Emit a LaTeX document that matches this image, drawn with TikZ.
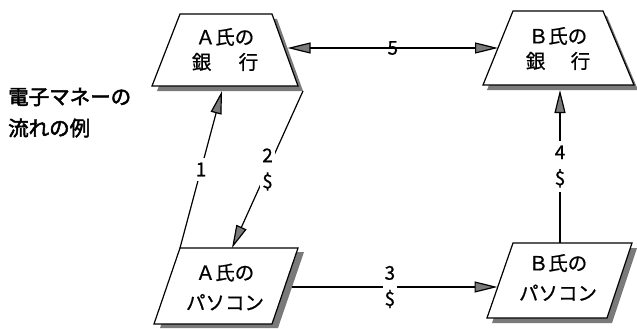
\documentclass[tikz,border=0pt]{standalone}
\usepackage{fontspec}
\newfontfamily\jp[FakeBold=0.7]{Noto Sans CJK JP}
\newfontfamily\jpbold[FakeBold=2.4]{Noto Sans CJK JP}
\usetikzlibrary{arrows.meta,calc}

\tikzset{
  boxline/.style={draw=black, line width=1.2pt, fill=white, line join=miter},
  boxshadow/.style={fill=black!52, draw=none},
  boxtext/.style={align=center, inner sep=0pt, font=\jp\fontsize{19.5}{25}\selectfont},
  pctext/.style={boxtext, font=\jp\fontsize{19.5}{30}\selectfont},
  flow/.style={draw=black, line width=1.2pt,
    -{Triangle[length=23pt, width=11pt, fill=black!52]}},
  flowboth/.style={flow,
    {Triangle[length=23pt, width=11pt, fill=black!52]}-{Triangle[length=23pt, width=11pt, fill=black!52]}},
  flowlabel/.style={fill=white, align=center, inner xsep=2pt, inner ysep=5pt,
    font=\jp\fontsize{19}{26}\selectfont},
  titletext/.style={anchor=west, inner sep=0pt, font=\jpbold\fontsize{20.5}{31}\selectfont}
}

\begin{document}
\begin{tikzpicture}[x=1pt, y=-1pt]
\useasboundingbox (0,0) rectangle (637,329);

% corners of the two banks (trapezia) and the two PCs (parallelograms)
\coordinate (ab1) at (180,14);  \coordinate (ab2) at (272,14);
\coordinate (ab3) at (298,86);  \coordinate (ab4) at (152,86);
\coordinate (bb1) at (513,11);  \coordinate (bb2) at (603,11);
\coordinate (bb3) at (634,85);  \coordinate (bb4) at (483,85);
\coordinate (ap1) at (180,248); \coordinate (ap2) at (298,248);
\coordinate (ap3) at (272,324); \coordinate (ap4) at (154,324);
\coordinate (bp1) at (513,243); \coordinate (bp2) at (632,243);
\coordinate (bp3) at (607,318); \coordinate (bp4) at (487,318);

% shadows
\fill[boxshadow] ([shift={(5,5)}]ab1) -- ([shift={(5,5)}]ab2) -- ([shift={(5,5)}]ab3) -- ([shift={(5,5)}]ab4) -- cycle;
\fill[boxshadow] ([shift={(4,5)}]bb1) -- ([shift={(4,5)}]bb2) -- ([shift={(4,5)}]bb3) -- ([shift={(4,5)}]bb4) -- cycle;
\fill[boxshadow] ([shift={(6,4)}]ap1) -- ([shift={(6,4)}]ap2) -- ([shift={(6,4)}]ap3) -- ([shift={(6,4)}]ap4) -- cycle;
\fill[boxshadow] ([shift={(5,5)}]bp1) -- ([shift={(5,5)}]bp2) -- ([shift={(5,5)}]bp3) -- ([shift={(5,5)}]bp4) -- cycle;

% boxes
\draw[boxline] (ab1) -- (ab2) -- (ab3) -- (ab4) -- cycle;
\draw[boxline] (bb1) -- (bb2) -- (bb3) -- (bb4) -- cycle;
\draw[boxline] (ap1) -- (ap2) -- (ap3) -- (ap4) -- cycle;
\draw[boxline] (bp1) -- (bp2) -- (bp3) -- (bp4) -- cycle;

% box texts
\node[boxtext] (abank) at (225,49.5) {Ａ氏の\\銀\hspace{1.4em}行};
\node[boxtext] (bbank) at (558,48.5) {Ｂ氏の\\銀\hspace{1.3em}行};
\node[pctext]  (apc)   at (225,287)  {Ａ氏の\\パソコン};
\node[pctext]  (bpc)   at (558,277.5){Ｂ氏の\\パソコン};

% title
\node[titletext] (title1) at (8,97)  {電子マネーの};
\node[titletext] (title2) at (8,128) {流れの例};

% connector end points on the box outlines
\coordinate (e5a) at (287.5,48);
\coordinate (e5b) at (498,48);
\coordinate (e1a) at (ap1);
\coordinate (e1b) at (222,91);
\coordinate (e2a) at (303,91);
\coordinate (e2b) at (232,248);
\coordinate (e3a) at (292,287);
\coordinate (e3b) at (497.5,287);
\coordinate (e4a) at (560,243);
\coordinate (e4b) at (560,90);

% money flow
\draw[flowboth] (e5a) -- node[pos=0.5, font=\jp\fontsize{19}{26}\selectfont, inner sep=0pt] (l5) {5} (e5b);
\draw[flow] (e1a) -- node[flowlabel, pos=0.5] (l1) {1} (e1b);
\draw[flow] (e2a) -- node[flowlabel, pos=0.5] (l2) {2\\\$} (e2b);
\draw[flow] (e3a) -- node[flowlabel, pos=0.476] (l3) {3\\\$} (e3b);
\draw[flow] (e4a) -- node[flowlabel, pos=0.5] (l4) {4\\\$} (e4b);
\end{tikzpicture}
\end{document}
